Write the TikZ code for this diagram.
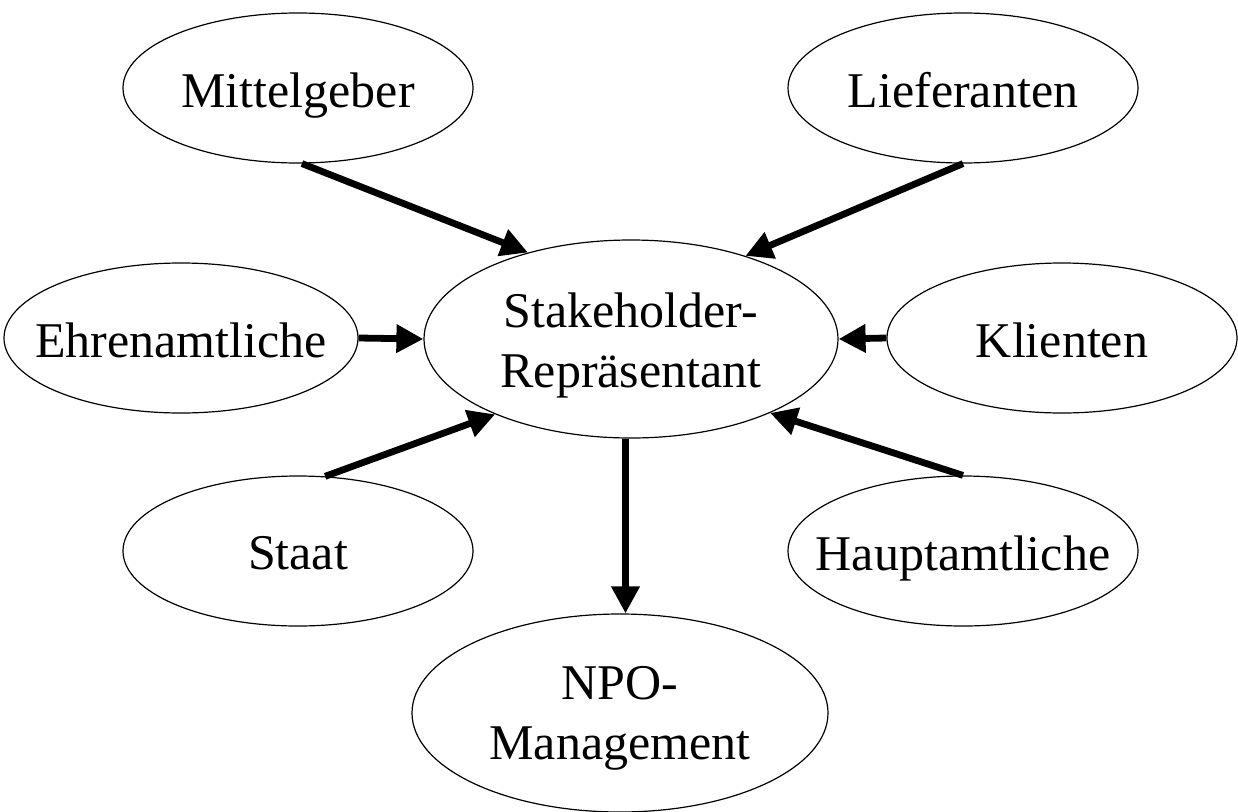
\documentclass[tikz,border=0pt]{standalone}
\usepackage{fontspec}
\setmainfont{Liberation Serif}
\usetikzlibrary{shapes.geometric,arrows.meta,calc}
\tikzset{
  oval/.style={ellipse, draw, line width=1.2pt, minimum width=350pt, minimum height=150pt, inner sep=0pt},
  bigoval/.style={oval, minimum width=414pt, minimum height=198pt},
  txt/.style={font=\fontsize{50}{60}\selectfont, align=center, text depth=0pt, inner sep=0pt},
  conn/.style={line width=6.8pt, -{Triangle[length=27pt,width=27pt]}, shorten >=0pt}
}
\begin{document}
\begin{tikzpicture}[x=1pt,y=-1pt]
\useasboundingbox (0,0) rectangle (1238,811);
\node[bigoval, label={[txt,yshift=-1pt]center:Stakeholder-\\Repräsentant}] (sr) at (631,339) {};
\node[oval, label={[txt,yshift=-2pt]center:Mittelgeber}] (mit) at (298,88) {};
\node[oval, label={[txt,yshift=-2pt]center:Lieferanten}] (lief) at (963,88) {};
\node[oval, minimum width=354pt, label={[txt,yshift=-2pt]center:Ehrenamtliche}] (ehr) at (181,338) {};
\node[oval, label={[txt,yshift=-2pt]center:Klienten}] (kl) at (1062,338) {};
\node[oval, label={[txt,yshift=-2pt]center:Staat}] (staat) at (298,551) {};
\node[oval, label={[txt,yshift=-2pt]center:Hauptamtliche}] (haupt) at (963,551) {};
\node[bigoval, minimum width=416pt, label={[txt]center:NPO-\\Management}] (npo) at (620,713) {};
\draw[conn] (mit.-87) -- (sr.140.5);
\draw[conn] (lief.south) -- (sr.36.6);
\draw[conn] (ehr.east) -- (sr.west);
\draw[conn] (kl.west) -- (sr.east);
\draw[conn] (staat.70) -- (sr.-151.1);
\draw[conn] (haupt.north) -- (sr.-28.9);
\coordinate (mid) at ($(sr.south)!0.5!(npo.north)$);
\draw[conn] (mid |- sr.south) -- (mid |- npo.north);
\end{tikzpicture}
\end{document}
